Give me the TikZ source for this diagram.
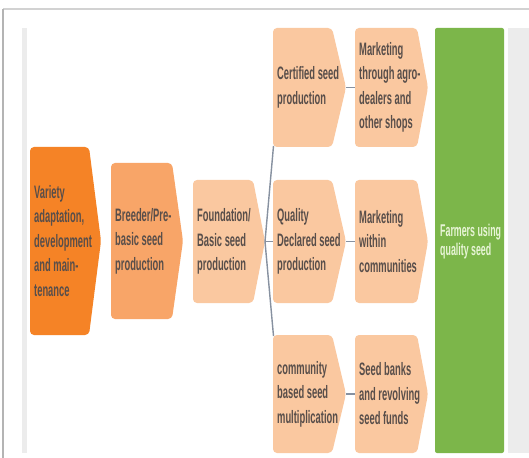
\documentclass[tikz,border=0pt]{standalone}
\usepackage{fontspec}
\newfontfamily\cf{Liberation Sans}[FakeStretch=0.52]
\definecolor{oDark}{RGB}{245,131,38}
\definecolor{oMid}{RGB}{248,165,104}
\definecolor{oLight}{RGB}{250,200,160}
\definecolor{gFill}{RGB}{124,182,74}
\definecolor{txtC}{RGB}{88,78,74}
\definecolor{gTxt}{RGB}{232,245,215}
\definecolor{lnC}{RGB}{135,145,160}
\definecolor{frameC}{RGB}{180,180,180}
\definecolor{stripC}{RGB}{236,236,236}
\tikzset{
  lbl/.style={anchor=west, inner sep=0pt, align=left, text=txtC,
    font=\cf\bfseries\fontsize{18bp}{24.5bp}\selectfont},
  glbl/.style={anchor=west, inner sep=0pt, align=left, text=gTxt,
    font=\cf\bfseries\fontsize{17bp}{19bp}\selectfont},
  link/.style={draw=lnC, line width=1.4bp},
  chevfill/.style={rounded corners=4bp}
}
% #1 name, #2 colour, #3 left, #4 top-right x, #5 point x, #6 top, #7 bottom, #8 text
\newcommand\chevbox[8]{%
  \fill[#2, chevfill] (#3,#6) -- (#4,#6) -- (#5,{(#6+#7)/2}) -- (#4,#7) -- (#3,#7) -- cycle;
  \coordinate (#1-in) at (#3,{(#6+#7)/2});
  \coordinate (#1-out) at (#5,{(#6+#7)/2});
  \coordinate (#1-tl) at (#3+0.5,#6+1);
  \coordinate (#1-bl) at (#3+0.5,#7-1);
  \node[lbl] (#1) at (#3+4,{(#6+#7)/2}) {#8};
}
\begin{document}
\begin{tikzpicture}[x=1bp,y=-1bp]
\useasboundingbox (0,0) rectangle (529,458);
\fill[white] (0,0) rectangle (529,458);
% frame
\fill[stripC] (22,28) rectangle (27,453);
\fill[stripC] (508,28) rectangle (529,453);
\draw[frameC!60, line width=2bp] (3,9) -- (529,9);
\draw[frameC, line width=2.5bp] (3,9) -- (3,458);
% boxes
\chevbox{var}{oDark}{30}{89}{101}{147}{335}{Variety\\adaptation,\\development\\and main-\\tenance}
\chevbox{bre}{oMid}{111}{172}{183}{163}{319}{Breeder/Pre-\\basic seed\\production}
\chevbox{fou}{oLight}{193}{253}{265}{180}{303}{Foundation/\\Basic seed\\production}
\chevbox{cer}{oLight}{273}{332}{346}{28}{147}{Certified seed\\production}
\chevbox{qua}{oLight}{273}{332}{346}{180}{303}{Quality\\Declared seed\\production}
\chevbox{com}{oLight}{273}{332}{346}{335}{453}{community\\based seed\\multiplication}
\chevbox{mka}{oLight}{355}{417}{428}{28}{147}{Marketing\\through agro-\\dealers and\\other shops}
\chevbox{mkw}{oLight}{355}{417}{428}{180}{303}{Marketing\\within\\communities}
\chevbox{sbk}{oLight}{355}{417}{428}{335}{453}{Seed banks\\and revolving\\seed funds}
% farmers
\fill[gFill, rounded corners=2bp] (435,28) rectangle (504,453);
\node[glbl] (far) at (440,242) {Farmers using\\quality seed};
% connectors
\draw[link] (cer-bl) -- (fou-out) -- (com-tl);
\draw[link] (fou-out) -- (qua-in);
\draw[link] (cer-out) -- (mka-in);
\draw[link] (qua-out) -- (mkw-in);
\draw[link] (com-out) -- (sbk-in);
\end{tikzpicture}
\end{document}
